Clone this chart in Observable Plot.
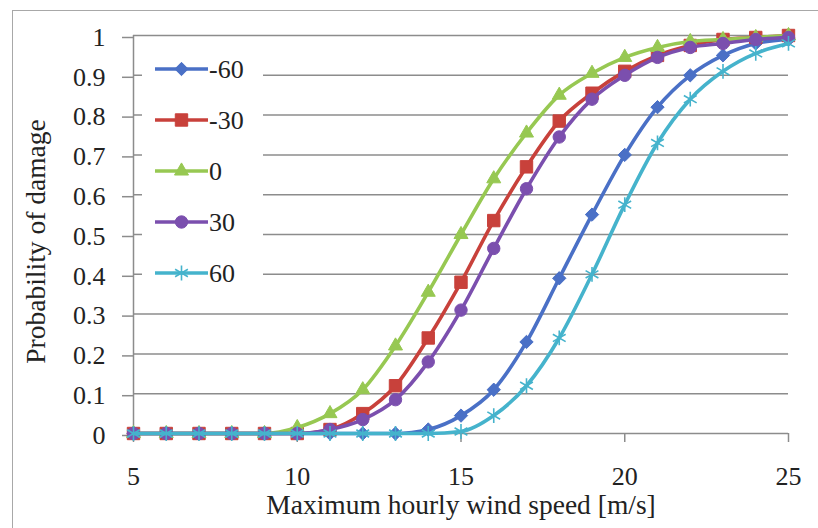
<!DOCTYPE html>
<html>
<head>
<meta charset="utf-8">
<script src="https://cdn.jsdelivr.net/npm/d3@7"></script>
<script src="https://cdn.jsdelivr.net/npm/@observablehq/plot@0.6"></script>
<style>
  html, body { margin: 0; padding: 0; background: #fff; }
  #wrap { position: relative; width: 818px; height: 528px; overflow: hidden; background: #fff; }
  #frame { position: absolute; left: 12px; top: 10px; width: 900px; height: 700px; border-left: 1.5px solid #a8a8a8; border-top: 1.5px solid #a8a8a8; pointer-events: none; }
  #chart { position: absolute; left: 0; top: 0; }
  #legend { position: absolute; left: 142px; top: 45px; width: 121px; height: 250px; background: #fff; }
</style>
</head>
<body>
<div id="wrap">
  <div id="frame"></div>
  <div id="chart"></div>
  <div id="legend"></div>
</div>
<script>
// ---- data ----
const windSpeed = [5,6,7,8,9,10,11,12,13,14,15,16,17,18,19,20,21,22,23,24,25];
const seriesNames = ["-60", "-30", "0", "30", "60"];
const sMinus60 = [0,0,0,0,0,0,0,0,0,0.01,0.045,0.11,0.23,0.39,0.55,0.70,0.82,0.90,0.95,0.98,0.99];
const sMinus30 = [0,0,0,0,0,0,0.01,0.05,0.12,0.24,0.38,0.535,0.67,0.785,0.855,0.91,0.95,0.975,0.99,0.995,1.0];
const s0       = [0,0,0,0,0,0.015,0.05,0.11,0.22,0.355,0.50,0.64,0.755,0.85,0.905,0.945,0.97,0.985,0.99,0.995,1.0];
const s30      = [0,0,0,0,0,0,0.01,0.035,0.085,0.18,0.31,0.465,0.615,0.745,0.84,0.90,0.945,0.97,0.98,0.99,0.995];
const s60      = [0,0,0,0,0,0,0,0,0,0,0.005,0.045,0.12,0.24,0.40,0.575,0.73,0.84,0.91,0.955,0.98];
const xTicks = [5,10,15,20,25];
const yTicks = [0,0.1,0.2,0.3,0.4,0.5,0.6,0.7,0.8,0.9,1];
const xLabel = "Maximum hourly wind speed [m/s]";
const yLabel = "Probability of damage";

// ---- styling ----
const colors  = {"-60": "#4a70c6", "-30": "#c8413b", "0": "#97c852", "30": "#7b4fae", "60": "#45b3cc"};
const symbols = {"-60": "diamond2", "-30": "square", "0": "triangle", "30": "circle", "60": "asterisk"};
const radii   = {"-60": 6, "-30": 7, "0": 5.2, "30": 6.2, "60": 7};
const grid = "#8c8c8c";
const font = "Liberation Serif";

const valuesByName = {"-60": sMinus60, "-30": sMinus30, "0": s0, "30": s30, "60": s60};
const rows = seriesNames.flatMap(name => windSpeed.map((x, i) => ({x, y: valuesByName[name][i], name})));

const seriesMarks = [];
for (const name of seriesNames) {
  const data = rows.filter(d => d.name === name);
  const isStroke = symbols[name] === "asterisk";
  seriesMarks.push(Plot.line(data, {x: "x", y: "y", stroke: colors[name], strokeWidth: 3.6, curve: "monotone-x"}));
  seriesMarks.push(Plot.dot(data, {
    x: "x", y: "y", symbol: () => symbols[name], r: radii[name],
    fill: isStroke ? "none" : colors[name],
    stroke: colors[name], strokeWidth: isStroke ? 1.6 : 1
  }));
}

const chart = Plot.plot({
  width: 818,
  height: 528,
  marginLeft: 133,
  marginRight: 30,
  marginTop: 35,
  marginBottom: 95,
  style: {fontFamily: font, fontSize: "26px", background: "transparent", color: "#222"},
  x: {domain: [5, 25]},
  y: {domain: [0, 1]},
  marks: [
    Plot.ruleY(yTicks, {stroke: grid, strokeWidth: 1.5}),
    Plot.ruleX([5], {stroke: grid, strokeWidth: 1.5}),
    Plot.axisY({ticks: yTicks, tickSize: 11, tickPadding: 17, stroke: grid, strokeWidth: 1.5, fill: "#222",
                tickFormat: d => d3.format("~g")(d), label: null, dy: 2, fontFamily: font, fontVariant: "normal"}),
    Plot.axisX({ticks: xTicks, tickSize: 9, tickPadding: 24, stroke: grid, strokeWidth: 1.5, fill: "#222",
                tickFormat: d => String(d), label: null, fontFamily: font, fontVariant: "normal"}),
    Plot.text([xLabel], {text: d => d, frameAnchor: "bottom", textAnchor: "middle", dy: 80, fill: "#222", fontFamily: font, fontSize: 27.5}),
    Plot.text([yLabel], {text: d => d, frameAnchor: "left", textAnchor: "middle", rotate: -90, dx: -97, dy: 7, fill: "#222", fontFamily: font, fontSize: 27.5}),
    ...seriesMarks
  ]
});
document.getElementById("chart").appendChild(chart);
// make sure no numeric font features force a fallback font
d3.select(chart).selectAll("g[aria-label$='tick label'], g[aria-label$='tick label'] text")
  .style("font-variant", "normal").attr("font-variant", "normal");

// ---- legend (overlay inside plot area, white box like the original) ----
const leg = d3.select("#legend").append("svg").attr("width", 121).attr("height", 250);
const symbolTypes = {diamond2: d3.symbolDiamond2, square: d3.symbolSquare, triangle: d3.symbolTriangle, circle: d3.symbolCircle, asterisk: d3.symbolAsterisk};
const rowGap = 51, rowTop = 24;
seriesNames.forEach((name, i) => {
  const g = leg.append("g").attr("transform", `translate(0,${rowTop + i * rowGap})`);
  g.append("line").attr("x1", 13).attr("x2", 66).attr("y1", 0).attr("y2", 0)
    .attr("stroke", colors[name]).attr("stroke-width", 3.6);
  const isStroke = symbols[name] === "asterisk";
  g.append("path").attr("transform", "translate(39.5,0)")
    .attr("d", d3.symbol(symbolTypes[symbols[name]], Math.PI * radii[name] ** 2)())
    .attr("fill", isStroke ? "none" : colors[name])
    .attr("stroke", colors[name]).attr("stroke-width", isStroke ? 1.6 : 1);
  g.append("text").attr("x", 67).attr("y", 0).attr("dy", "0.34em").attr("fill", "#222")
    .attr("font-family", font).attr("font-size", 26).text(name);
});
</script>
</body>
</html>
